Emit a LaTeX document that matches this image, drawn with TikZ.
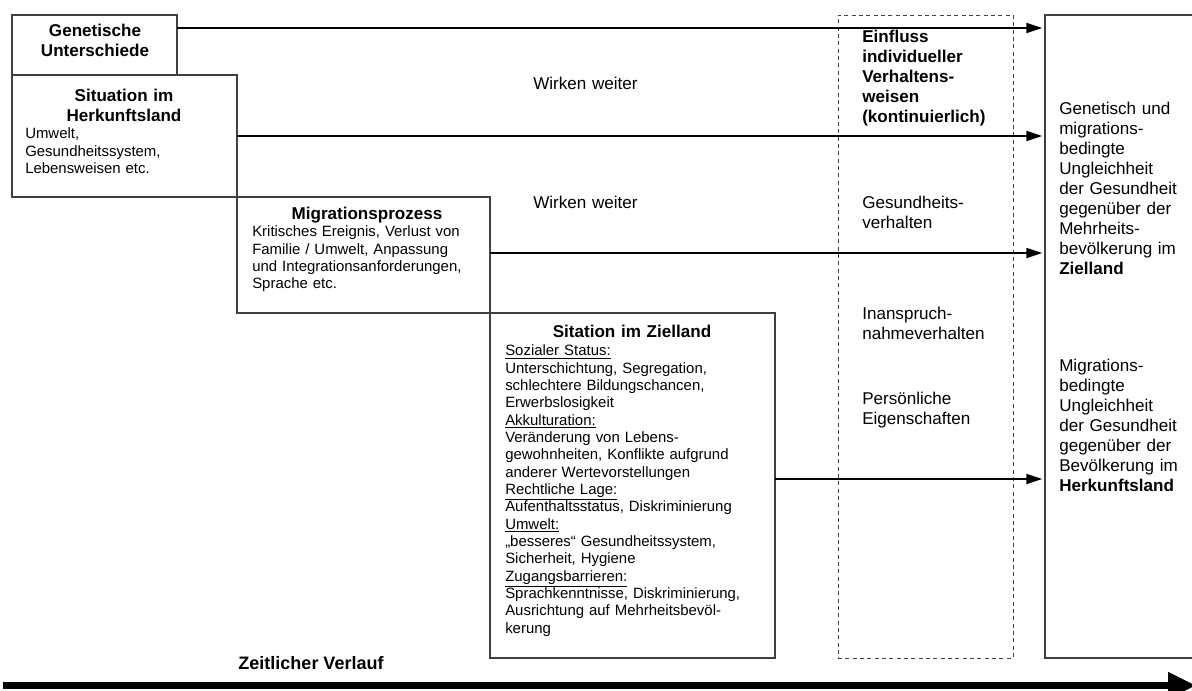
\documentclass[tikz,border=0pt]{standalone}
\usepackage{fontspec}
\setmainfont{Liberation Sans}
\usetikzlibrary{arrows.meta}

\begin{document}
\begin{tikzpicture}[x=0.75pt,y=-0.75pt,
    box/.style={draw=black!75, line width=0.9pt, inner sep=0pt, outer sep=0pt, anchor=north west},
    head/.style={font=\fontsize{12.8}{14.3}\selectfont\bfseries, text width=170pt, align=center, inner sep=0pt, anchor=base},
    body/.style={font=\fontsize{11.2}{13}\selectfont, text width=230pt, align=left, inner sep=0pt, anchor=base west},
    side/.style={font=\fontsize{12.8}{15}\selectfont, text width=110pt, align=left, inner sep=0pt, anchor=base west},
    arr/.style={line width=1.5pt, -{Triangle[length=12pt,width=7.5pt]}, shorten >=2pt}]
  \useasboundingbox (0,0) rectangle (1192,691);

  % boxes
  \node[box, minimum width=123.75pt, minimum height=45pt] (gen) at (12,15) {};
  \node[box, minimum width=168.75pt, minimum height=91.5pt] (herk) at (12,75) {};
  \node[box, minimum width=189.75pt, minimum height=87pt] (mig) at (237,197) {};
  \node[box, minimum width=213.75pt, minimum height=258.75pt] (ziel) at (490,313) {};
  \node[box, line width=0.7pt, dash pattern=on 3pt off 2.5pt, minimum width=131.25pt, minimum height=482.25pt] (infl) at (838,15) {};
  \node[box, minimum width=116.25pt, minimum height=482.25pt] (res) at (1045,15) {};

  % texts in the boxes
  \node[head] (genT) at (95,37) {Genetische\\Unterschiede};
  \node[head] (herkT) at (124,102) {Situation im\\Herkunftsland};
  \node[body] (herkB) at (25,139) {Umwelt,\\Gesundheitssystem,\\Lebensweisen etc.};
  \node[head] (migT) at (367,220) {Migrationsprozess};
  \node[body] (migB) at (252,237) {Kritisches Ereignis, Verlust von\\Familie / Umwelt, Anpassung\\und Integrationsanforderungen,\\Sprache etc.};
  \node[head] (zielT) at (632,338) {Sitation im Zielland};
  \node[body] (zielB) at (505,356) {\underline{Sozialer Status:}\\
    Unterschichtung, Segregation,\\
    schlechtere Bildungschancen,\\
    Erwerbslosigkeit\\
    \underline{Akkulturation:}\\
    Veränderung von Lebens-\\
    gewohnheiten, Konflikte aufgrund\\
    anderer Wertevorstellungen\\
    \underline{Rechtliche Lage:}\\
    Aufenthaltsstatus, Diskriminierung\\
    \underline{Umwelt:}\\
    „besseres“ Gesundheitssystem,\\
    Sicherheit, Hygiene\\
    \underline{Zugangsbarrieren:}\\
    Sprachkenntnisse, Diskriminierung,\\
    Ausrichtung auf Mehrheitsbevöl-\\
    kerung};

  \node[side] (ww1) at (533,90) {Wirken weiter};
  \node[side] (ww2) at (533,209) {Wirken weiter};

  % individual behaviour
  \node[side, font=\fontsize{12.8}{15}\selectfont\bfseries] (inflT) at (862,43) {Einfluss\\individueller\\Verhaltens-\\weisen\\(kontinuierlich)};
  \node[side] (gv) at (862,209) {Gesundheits-\\verhalten};
  \node[side] (inv) at (862,320) {Inanspruch-\\nahmeverhalten};
  \node[side] (pe) at (862,405) {Persönliche\\Eigenschaften};

  % outcome
  \node[side] (resA) at (1059,115) {Genetisch und\\migrations-\\bedingte\\Ungleichheit\\der Gesundheit\\gegenüber der\\Mehrheits-\\bevölkerung im\\\textbf{Zielland}};
  \node[side] (resB) at (1059,372) {Migrations-\\bedingte\\Ungleichheit\\der Gesundheit\\gegenüber der\\Bevölkerung im\\\textbf{Herkunftsland}};

  % arrows
  \draw[arr] (gen.east |- 0,28) -- (res.west |- 0,28);
  \draw[arr] (herk.east |- 0,136) -- (res.west |- 0,136);
  \draw[arr] (mig.east |- 0,253) -- (res.west |- 0,253);
  \draw[arr] (ziel.east |- 0,479) -- (res.west |- 0,479);

  % time axis
  \node[font=\fontsize{13.5}{16}\selectfont\bfseries, anchor=base, inner sep=0pt] (zeit) at (311,669) {Zeitlicher Verlauf};
  \coordinate (t0) at (3,685.5);
  \coordinate (t1) at (1196,685.5);
  \draw[line width=5pt, -{Triangle[length=21pt,width=19pt]}] (t0) -- (t1);
\end{tikzpicture}
\end{document}
